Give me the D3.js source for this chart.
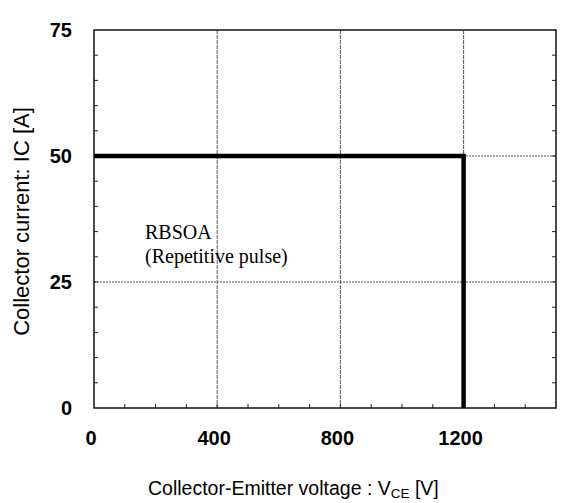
<!DOCTYPE html>
<html><head><meta charset="utf-8">
<script src="https://cdn.jsdelivr.net/npm/d3@7"></script>
<style>body{margin:0;background:#fff}svg{display:block}</style>
</head><body>
<script>
// Data
const soaVoltage = [0, 1200, 1200];
const soaCurrent = [50, 50, 0];
const xTicks = [0, 400, 800, 1200];
const yTicks = [0, 25, 50, 75];
const xGrid = [400, 800, 1200];
const yGrid = [25, 50];
const xMinor = d3.range(100, 1500, 100);
const yMinor = d3.range(5, 75, 5);
const annotation = ["RBSOA", "(Repetitive pulse)"];

const W = 577, H = 503;
const L = 94, R = 556, T = 30, B = 408;
const svg = d3.select("body").append("svg").attr("width", W).attr("height", H);
const x = d3.scaleLinear().domain([0, 1500]).range([L, R]);
const y = d3.scaleLinear().domain([0, 75]).range([B, T]);

// grid
svg.append("g").selectAll("line").data(xGrid).join("line")
  .attr("x1", d => x(d)).attr("x2", d => x(d)).attr("y1", T).attr("y2", B)
  .attr("stroke", "#555").attr("stroke-width", 1).attr("stroke-dasharray", "4,1");
svg.append("g").selectAll("line").data(yGrid).join("line")
  .attr("x1", L).attr("x2", R).attr("y1", d => y(d)).attr("y2", d => y(d))
  .attr("stroke", "#555").attr("stroke-width", 1).attr("stroke-dasharray", "2,1");

// minor ticks
const tk = svg.append("g").attr("stroke", "#222").attr("stroke-width", 1);
tk.selectAll(".xb").data(xMinor).join("line").attr("class","xb")
  .attr("x1", d => x(d)).attr("x2", d => x(d)).attr("y1", B).attr("y2", B - 4);
tk.selectAll(".yl").data(yMinor).join("line").attr("class","yl")
  .attr("x1", L).attr("x2", L + 4).attr("y1", d => y(d)).attr("y2", d => y(d));
tk.selectAll(".yr").data(yMinor).join("line").attr("class","yr")
  .attr("x1", R).attr("x2", R - 4).attr("y1", d => y(d)).attr("y2", d => y(d));

// frame
svg.append("rect").attr("x", L).attr("y", T).attr("width", R - L).attr("height", B - T)
  .attr("fill", "none").attr("stroke", "#111").attr("stroke-width", 1.5);

// SOA line
const pts = soaVoltage.map((v, i) => [v, soaCurrent[i]]);
svg.append("path").datum(pts)
  .attr("d", d3.line().x(d => x(d[0])).y(d => y(d[1])))
  .attr("fill", "none").attr("stroke", "#000").attr("stroke-width", 4.5)
  .attr("stroke-linejoin", "miter");

// tick labels
svg.append("g").selectAll("text").data(xTicks).join("text")
  .attr("x", d => x(d) - 3).attr("y", 445).attr("text-anchor", "middle")
  .attr("font-family", "Liberation Sans, Arial, sans-serif").attr("font-weight", "bold")
  .attr("font-size", 20).text(d => d);
svg.append("g").selectAll("text").data(yTicks).join("text")
  .attr("x", 72).attr("y", d => y(d) + 7).attr("text-anchor", "end")
  .attr("font-family", "Liberation Sans, Arial, sans-serif").attr("font-weight", "bold")
  .attr("font-size", 20).text(d => d);

// axis titles
const xt = svg.append("text").attr("x", 148).attr("y", 495)
  .attr("font-family", "Liberation Sans, Arial, sans-serif").attr("font-size", 19.5);
xt.append("tspan").text("Collector-Emitter voltage : V");
xt.append("tspan").attr("font-size", 13.5).attr("dy", 3).text("CE");
xt.append("tspan").attr("dy", -3).text(" [V]");

svg.append("text").attr("transform", "translate(28.5,221.5) rotate(-90)")
  .attr("text-anchor", "middle")
  .attr("font-family", "Liberation Sans, Arial, sans-serif").attr("font-size", 22)
  .text("Collector current: IC [A]");

// annotation
svg.append("g").selectAll("text").data(annotation).join("text")
  .attr("x", 145).attr("y", (d, i) => 239 + i * 24)
  .attr("font-family", "Liberation Serif, Times New Roman, serif").attr("font-size", 20)
  .text(d => d);
</script>
</body></html>
